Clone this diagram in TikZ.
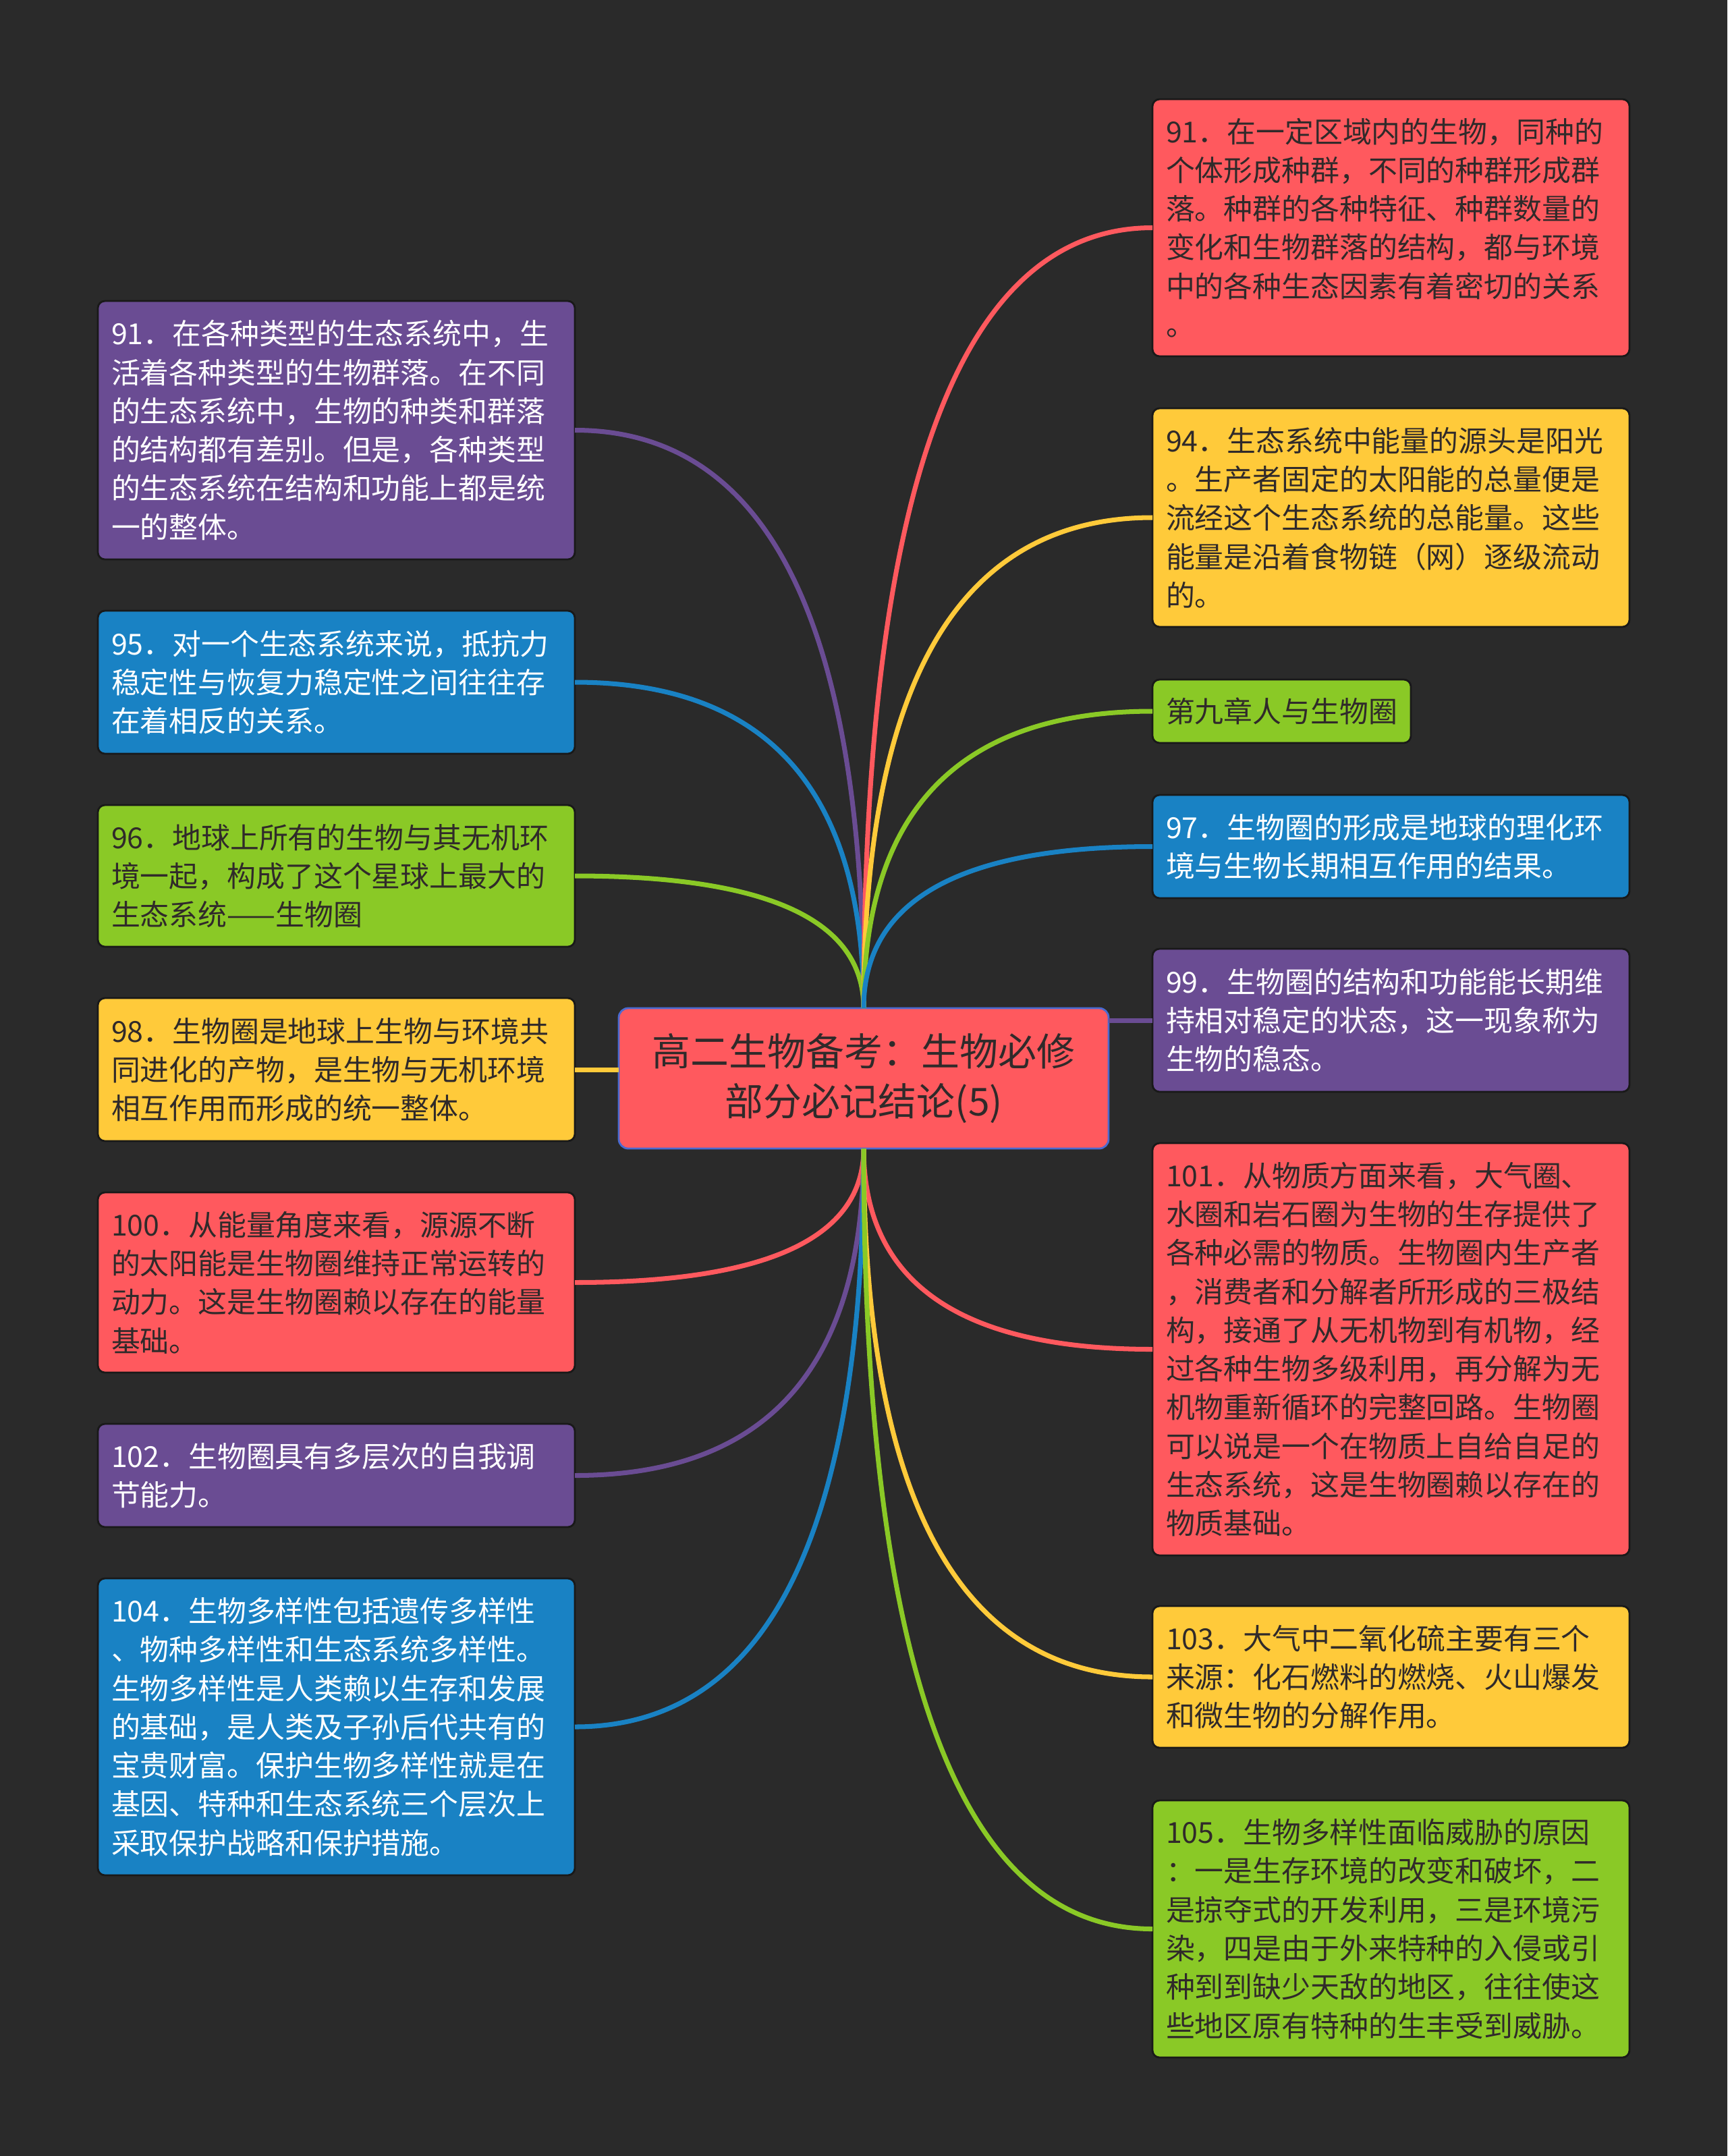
\documentclass[tikz,border=0pt]{standalone}
\usepackage{fontspec}
\setmainfont{Noto Sans CJK SC}
\usepackage{xcolor}
\usepackage{tikz}
\usetikzlibrary{positioning,calc}
\definecolor{bgdark}{HTML}{2A2A2A}
\definecolor{mapred}{HTML}{FF595E}
\definecolor{mapyellow}{HTML}{FFCA3A}
\definecolor{mapgreen}{HTML}{8AC926}
\definecolor{mapblue}{HTML}{1982C4}
\definecolor{mappurple}{HTML}{6A4C93}
\definecolor{darktext}{HTML}{302A2A}
\definecolor{rootline}{HTML}{4A6AD0}
\tikzset{
  topic/.style={draw=black!90, line width=0.8pt, rounded corners=3pt, outer sep=0pt,
                align=left, inner xsep=0.2cm, inner ysep=0.15cm,
                font=\fontsize{12.2pt}{16.3pt}\selectfont, text=darktext},
  wide/.style={topic, text width=6.67cm},
  redtopic/.style={wide, fill=mapred},
  yellowtopic/.style={wide, fill=mapyellow},
  greentopic/.style={wide, fill=mapgreen},
  bluetopic/.style={wide, fill=mapblue, text=white},
  purpletopic/.style={wide, fill=mappurple, text=white},
  root/.style={draw=rootline, line width=0.8pt, fill=mapred, rounded corners=4pt, outer sep=0pt,
               align=center, minimum width=7.26cm, minimum height=2.08cm,
               font=\fontsize{16.2pt}{21.3pt}\selectfont, text=darktext},
  link/.style={line width=2pt}
}

\begin{document}
\begin{tikzpicture}
  \fill[bgdark] (0,0) rectangle (25.6,-31.95);
  \useasboundingbox (0,0) rectangle (25.6,-31.95);

  \node[root] (root) at (12.80,-15.98) {高二生物备考：生物必修\\部分必记结论(5)};

  % left column
  \node[purpletopic, minimum height=3.83cm, anchor=north west] (l1) at (1.45,-4.46)
    {91．在各种类型的生态系统中，生\\活着各种类型的生物群落。在不同\\的生态系统中，生物的种类和群落\\的结构都有差别。但是，各种类型\\的生态系统在结构和功能上都是统\\一的整体。};
  \node[bluetopic, minimum height=2.12cm, below=0.76cm of l1] (l2)
    {95．对一个生态系统来说，抵抗力\\稳定性与恢复力稳定性之间往往存\\在着相反的关系。};
  \node[greentopic, minimum height=2.10cm, below=0.76cm of l2] (l3)
    {96．地球上所有的生物与其无机环\\境一起，构成了这个星球上最大的\\生态系统——生物圈};
  \node[yellowtopic, minimum height=2.12cm, below=0.76cm of l3] (l4)
    {98．生物圈是地球上生物与环境共\\同进化的产物，是生物与无机环境\\相互作用而形成的统一整体。};
  \node[redtopic, minimum height=2.67cm, below=0.76cm of l4] (l5)
    {100．从能量角度来看，源源不断\\的太阳能是生物圈维持正常运转的\\动力。这是生物圈赖以存在的能量\\基础。};
  \node[purpletopic, minimum height=1.53cm, below=0.76cm of l5] (l6)
    {102．生物圈具有多层次的自我调\\节能力。};
  \node[bluetopic, minimum height=4.40cm, below=0.76cm of l6] (l7)
    {104．生物多样性包括遗传多样性\\、物种多样性和生态系统多样性。\\生物多样性是人类赖以生存和发展\\的基础，是人类及子孙后代共有的\\宝贵财富。保护生物多样性就是在\\基因、特种和生态系统三个层次上\\采取保护战略和保护措施。};

  % right column
  \node[redtopic, minimum height=3.81cm, anchor=north west] (r1) at (17.08,-1.47)
    {91．在一定区域内的生物，同种的\\个体形成种群，不同的种群形成群\\落。种群的各种特征、种群数量的\\变化和生物群落的结构，都与环境\\中的各种生态因素有着密切的关系\\。};
  \node[yellowtopic, minimum height=3.24cm, below=0.77cm of r1] (r2)
    {94．生态系统中能量的源头是阳光\\。生产者固定的太阳能的总量便是\\流经这个生态系统的总能量。这些\\能量是沿着食物链（网）逐级流动\\的。};
  \node[topic, fill=mapgreen, minimum height=0.94cm,
        below=0.78cm of r2.south west, anchor=north west] (r3) {第九章人与生物圈};
  \node[bluetopic, minimum height=1.53cm,
        below=0.77cm of r3.south west, anchor=north west] (r4)
    {97．生物圈的形成是地球的理化环\\境与生物长期相互作用的结果。};
  \node[purpletopic, minimum height=2.12cm, below=0.75cm of r4] (r5)
    {99．生物圈的结构和功能能长期维\\持相对稳定的状态，这一现象称为\\生物的稳态。};
  \node[redtopic, minimum height=6.11cm, below=0.76cm of r5] (r6)
    {101．从物质方面来看，大气圈、\\水圈和岩石圈为生物的生存提供了\\各种必需的物质。生物圈内生产者\\，消费者和分解者所形成的三极结\\构，接通了从无机物到有机物，经\\过各种生物多级利用，再分解为无\\机物重新循环的完整回路。生物圈\\可以说是一个在物质上自给自足的\\生态系统，这是生物圈赖以存在的\\物质基础。};
  \node[yellowtopic, minimum height=2.10cm, below=0.75cm of r6] (r7)
    {103．大气中二氧化硫主要有三个\\来源：化石燃料的燃烧、火山爆发\\和微生物的分解作用。};
  \node[greentopic, minimum height=3.81cm, below=0.78cm of r7] (r8)
    {105．生物多样性面临威胁的原因\\：一是生存环境的改变和破坏，二\\是掠夺式的开发利用，三是环境污\\染，四是由于外来特种的入侵或引\\种到到缺少天敌的地区，往往使这\\些地区原有特种的生丰受到威胁。};

  % connectors (quadratic bends)
  \foreach \n/\c/\s/\e in {l1/mappurple/north/east, l2/mapblue/north/east, l3/mapgreen/north/east,
                           l5/mapred/south/east, l6/mappurple/south/east, l7/mapblue/south/east,
                           r1/mapred/north/west, r2/mapyellow/north/west, r3/mapgreen/north/west,
                           r4/mapblue/north/west, r6/mapred/south/west, r7/mapyellow/south/west,
                           r8/mapgreen/south/west}
    \draw[link, \c] (root.\s)
      .. controls ($(root.\s)!0.667!(root.\s |- \n.\e)$) and ($(\n.\e)!0.667!(root.\s |- \n.\e)$)
      .. (\n.\e);
  \draw[link, mapyellow] (l4.east) -- (l4.east -| root.west);
  \draw[link, mappurple] (r5.west) -- (r5.west -| root.east);
\end{tikzpicture}
\end{document}
